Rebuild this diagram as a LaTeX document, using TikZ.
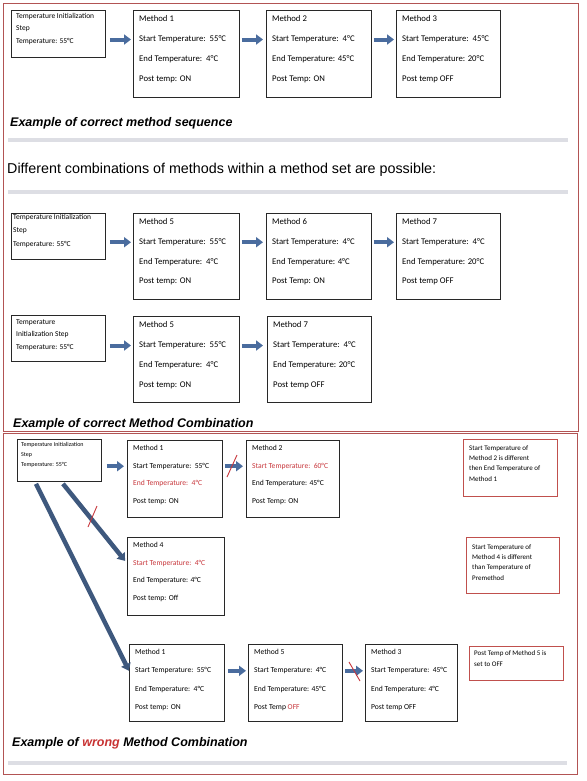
\documentclass[tikz,border=0pt]{standalone}
\usepackage{fontspec}
\setmainfont{Carlito}
\newfontfamily\arialf{Liberation Sans}
\usetikzlibrary{arrows.meta,calc}
\definecolor{frameRed}{RGB}{178,84,84}
\definecolor{noteRed}{RGB}{192,80,77}
\definecolor{txtRed}{RGB}{200,55,60}
\definecolor{headRed}{RGB}{200,50,50}
\definecolor{arrBlue}{RGB}{74,108,158}
\definecolor{arrDark}{RGB}{62,88,125}
\definecolor{barGrey}{RGB}{221,222,228}
\definecolor{boxLine}{RGB}{40,40,40}
\newcommand\setm[4]{\def\mfs{#1}\def\mdx{#2}\def\moff{#3}\def\msp{#4}}
\newcommand\mbx[9]{%
  \node[mbox, minimum width=#4pt, minimum height=#5pt] (#1) at (#2,#3) {};
  \node[mtxt] (#1a) at ($(#1.north west)+(\mdx,\moff)$) {#6};
  \node[mtxt] (#1b) at ($(#1.north west)+(\mdx,\moff+\msp)$) {#7};
  \node[mtxt] (#1c) at ($(#1.north west)+(\mdx,\moff+2*\msp)$) {#8};
  \node[mtxt] (#1d) at ($(#1.north west)+(\mdx,\moff+3*\msp)$) {#9};
}
\newcommand\ibx[8]{%
  \node[mbox, minimum width=#4pt, minimum height=#5pt] (#1) at (#2,#3) {};
  \node[mtxt] (#1a) at ($(#1.north west)+(\mdx,\moff)$) {#6};
  \node[mtxt] (#1b) at ($(#1.north west)+(\mdx,\moff+\msp)$) {#7};
  \node[mtxt] (#1c) at ($(#1.north west)+(\mdx,\moff+2*\msp)$) {#8};
}
\begin{document}
\begin{tikzpicture}[x=1pt,y=-1pt,
  frame/.style={draw=frameRed, line width=0.8pt},
  mbox/.style={draw=boxLine, line width=0.8pt, inner sep=0pt, anchor=north west},
  notebox/.style={draw=noteRed, line width=0.9pt, inner sep=0pt, anchor=north west},
  mtxt/.style={inner sep=0pt, anchor=base west, font=\fontsize{\mfs}{\mfs}\selectfont},
  ntxt/.style={inner sep=0pt, anchor=north west, align=left, font=\fontsize{7}{10.3}\selectfont},
  heading/.style={inner sep=0pt, anchor=base west, font=\arialf\bfseries\itshape\fontsize{12.5}{14}\selectfont},
  bar/.style={draw=barGrey, line width=4pt},
  barrow/.style={draw=arrBlue, line width=4pt, -{Triangle[length=7pt,width=10pt]}},
  darrow/.style={draw=arrDark, line width=4.5pt, -{Triangle[length=7pt,width=10pt]}},
  slash/.style={draw=txtRed, line width=0.9pt}
]
\useasboundingbox (0,0) rectangle (586,781);
\fill[white] (0,0) rectangle (586,781);
% frames
\draw[frame] (3,3) rectangle (578,431);
\draw[frame] (3,433) rectangle (577,774);
% bars
\draw[bar] (8,140) -- (568,140);
\draw[bar] (8,192) -- (568,192);
\draw[bar] (8,763) -- (567,763);

% ---------- section 1 ----------
\setm{7.5}{5}{8.4}{12.5}
\ibx{i1}{11}{10}{94}{47}{Temperature Initialization}{Step}{Temperature: 55°C}
\setm{8.7}{6}{11.8}{20}
\mbx{m1}{133}{10}{106}{87}{Method 1}{Start Temperature:\ \ 55°C}{End Temperature:\ \ 4°C}{Post temp: ON}
\mbx{m2}{266}{10}{105}{87}{Method 2}{Start Temperature:\ \ 4°C}{End Temperature: 45°C}{Post Temp: ON}
\mbx{m3}{396}{10}{104}{87}{Method 3}{Start Temperature:\ \ 45°C}{End Temperature: 20°C}{Post temp OFF}
\draw[barrow, shorten <=4pt, shorten >=2pt] (i1.east |- m1b) -- (m1.west |- m1b);
\draw[barrow, shorten <=2pt, shorten >=3pt] (m1.east |- m1b) -- (m2.west |- m1b);
\draw[barrow, shorten <=2pt, shorten >=2pt] (m2.east |- m2b) -- (m3.west |- m2b);
\node[heading] (h1) at (10,126.5) {Example of correct method sequence};

\node[inner sep=0pt, anchor=base west, font=\arialf\fontsize{14.3}{16}\selectfont] (h2) at (7,173) {Different combinations of methods within a method set are possible:};

% ---------- section 2 ----------
\setm{7.5}{2}{6.4}{13.5}
\ibx{i2}{11}{213}{94}{46}{Temperature Initialization}{Step}{Temperature: 55°C}
\setm{8.7}{6}{11.8}{19.7}
\mbx{m5}{133}{213}{106}{86}{Method 5}{Start Temperature:\ \ 55°C}{End Temperature:\ \ 4°C}{Post temp: ON}
\mbx{m6}{266}{213}{105}{86}{Method 6}{Start Temperature:\ \ 4°C}{End Temperature: 4°C}{Post Temp: ON}
\mbx{m7}{396}{213}{104}{86}{Method 7}{Start Temperature:\ \ 4°C}{End Temperature: 20°C}{Post temp OFF}
\draw[barrow, shorten <=4pt, shorten >=2pt] (i2.east |- m5b) -- (m5.west |- m5b);
\draw[barrow, shorten <=2pt, shorten >=3pt] (m5.east |- m5b) -- (m6.west |- m5b);
\draw[barrow, shorten <=2pt, shorten >=2pt] (m6.east |- m6b) -- (m7.west |- m6b);

\setm{7.5}{5}{9.4}{12.5}
\ibx{i2r}{11}{315}{94}{46}{Temperature}{Initialization Step}{Temperature: 55°C}
\setm{8.7}{6}{11.8}{20}
\mbx{m5r}{133}{316}{106}{86}{Method 5}{Start Temperature:\ \ 55°C}{End Temperature:\ \ 4°C}{Post temp: ON}
\mbx{m7r}{267}{316}{104}{86}{Method 7}{Start Temperature:\ \ 4°C}{End Temperature: 20°C}{Post temp OFF}
\draw[barrow, shorten <=4pt, shorten >=2pt] (i2r.east |- m5rb) -- (m5r.west |- m5rb);
\draw[barrow, shorten <=2pt, shorten >=4pt] (m5r.east |- m5rb) -- (m7r.west |- m5rb);
\node[heading] (h3) at (13,427.5) {Example of correct Method Combination};

% ---------- section 3 ----------
\setm{6}{4}{7.9}{10}
\ibx{i3}{17}{439}{84}{42}{Temperature Initialization}{Step}{Temperature: 55°C}
\setm{7.6}{6}{10.5}{17.7}
\mbx{w1}{127}{440}{95}{77}{Method 1}{Start Temperature:\ \ 55°C}{\textcolor{txtRed}{End Temperature:\ \ 4°C}}{Post temp: ON}
\mbx{w2}{246}{440}{93}{77}{Method 2}{\textcolor{txtRed}{Start Temperature:\ \ 60°C}}{End Temperature: 45°C}{Post Temp: ON}
\mbx{w4}{127}{537}{97}{78}{Method 4}{\textcolor{txtRed}{Start Temperature:\ \ 4°C}}{End Temperature: 4°C}{Post temp: Off}
\setm{7.6}{6}{10.5}{18.3}
\mbx{b1}{129}{644}{95}{77}{Method 1}{Start Temperature:\ \ 55°C}{End Temperature:\ \ 4°C}{Post temp: ON}
\mbx{b5}{248}{644}{94}{77}{Method 5}{Start Temperature:\ \ 4°C}{End Temperature: 45°C}{Post Temp \textcolor{txtRed}{OFF}}
\mbx{b3}{365}{644}{92}{77}{Method 3}{Start Temperature:\ \ 45°C}{End Temperature: 4°C}{Post temp OFF}

\draw[barrow, shorten <=5pt, shorten >=3pt] (i3.east |- w1b) -- (w1.west |- w1b);
\draw[barrow, shorten <=2pt, shorten >=3pt] (w1.east |- w1b) -- (w2.west |- w1b);
\draw[barrow, shorten <=3pt, shorten >=2pt] (b1.east |- b1b) -- (b5.west |- b1b);
\draw[barrow, shorten <=2pt, shorten >=2pt] (b5.east |- b5b) -- (b3.west |- b5b);
\coordinate (d1s) at ($(i3.south west)+(46,2)$);
\coordinate (d2s) at ($(i3.south west)+(19,2)$);
\draw[darrow, shorten >=3pt] (d1s) -- (w4.west |- w4b);
\draw[darrow] (d2s) -- (b1.west |- b1b);
% red slashes
\draw[slash] (227,477) -- (237,455);
\draw[slash] (88,527) -- (97,506);
\draw[slash] (349,662) -- (360,681);

% notes
\node[notebox, minimum width=94pt, minimum height=57pt] (n1) at (463,439) {};
\node[ntxt] (n1t) at ($(n1.north west)+(6,6.1)$) {Start Temperature of\\Method 2 is different\\then End Temperature of\\Method 1};
\node[notebox, minimum width=93pt, minimum height=56pt] (n2) at (466,537) {};
\node[ntxt] (n2t) at ($(n2.north west)+(6,7.1)$) {Start Temperature of\\Method 4 is different\\than Temperature of\\Premethod};
\node[notebox, minimum width=94pt, minimum height=34pt] (n3) at (469,646) {};
\node[ntxt, font=\fontsize{7}{11}\selectfont] (n3t) at ($(n3.north west)+(5,4.1)$) {Post Temp of Method 5 is\\set to OFF};

\node[heading] (h4) at (12,746.5) {Example of \textcolor{headRed}{wrong} Method Combination};
\end{tikzpicture}
\end{document}
